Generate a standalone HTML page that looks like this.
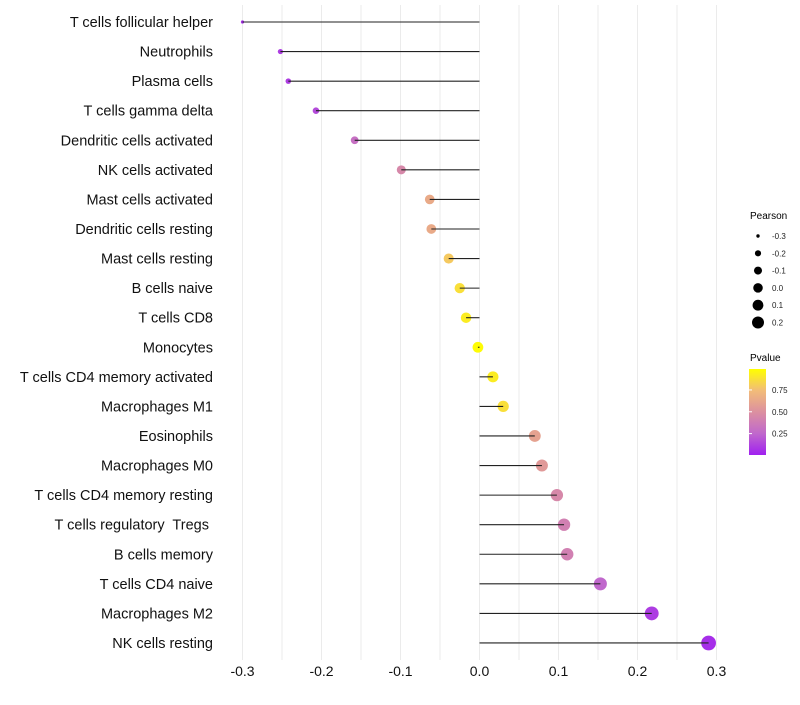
<!DOCTYPE html>
<html><head><meta charset="utf-8"><style>
body{margin:0;background:#fff;font-family:"Liberation Sans",sans-serif}
svg text{font-family:"Liberation Sans",sans-serif;white-space:pre}
</style></head><body>
<svg id="chart" width="800" height="700" xmlns="http://www.w3.org/2000/svg">
<g id="grid"></g>
<g id="dots"></g>
<g id="stems"></g>
<g id="ylab"></g>
<g id="xlab"></g>
<g id="legend">
<text x="750" y="219" font-size="10">Pearson</text>
<text x="750" y="361" font-size="10">Pvalue</text>
<defs><linearGradient id="pg" x1="0" y1="1" x2="0" y2="0">
<stop offset="0" stop-color="#a020f0"/><stop offset="0.25" stop-color="#c068cc"/><stop offset="0.5" stop-color="#dc90a0"/><stop offset="0.75" stop-color="#f2bc78"/><stop offset="1" stop-color="#ffff00"/></linearGradient></defs>
<rect x="749" y="369" width="17" height="86" fill="url(#pg)"/>
</g>
</svg>
<script>
const categories=["T cells follicular helper","Neutrophils","Plasma cells","T cells gamma delta","Dendritic cells activated","NK cells activated","Mast cells activated","Dendritic cells resting","Mast cells resting","B cells naive","T cells CD8","Monocytes","T cells CD4 memory activated","Macrophages M1","Eosinophils","Macrophages M0","T cells CD4 memory resting","T cells regulatory  Tregs ","B cells memory","T cells CD4 naive","Macrophages M2","NK cells resting"];
const pearson=[-0.30,-0.252,-0.242,-0.207,-0.158,-0.099,-0.063,-0.061,-0.039,-0.025,-0.017,-0.002,0.017,0.030,0.070,0.079,0.098,0.107,0.111,0.153,0.218,0.290];
const pvalue=[0.05,0.1,0.1,0.15,0.3,0.45,0.65,0.65,0.8,0.88,0.93,0.99,0.93,0.88,0.6,0.55,0.45,0.4,0.4,0.25,0.1,0.05];
const xTicks=[-0.3,-0.2,-0.1,0,0.1,0.2,0.3];
const xTickLabels=["-0.3","-0.2","-0.1","0.0","0.1","0.2","0.3"];
const sizeLegend=[-0.3,-0.2,-0.1,0.0,0.1,0.2];
const pLegend=[0.75,0.5,0.25];
const NS="http://www.w3.org/2000/svg";
const x=v=>479.5+v*790;
const y=i=>22+i*29.57;
const r=v=>Math.sqrt(Math.max(1.5,29+88*v));
function lerp(a,b,t){return a.map((c,i)=>Math.round(c+(b[i]-c)*t));}
const stops=[[0,[160,32,240]],[0.25,[192,104,204]],[0.5,[220,144,160]],[0.75,[242,188,120]],[1,[255,255,0]]];
function col(p){for(let k=0;k<stops.length-1;k++){const[a,ca]=stops[k],[b,cb]=stops[k+1];if(p<=b){const c=lerp(ca,cb,(p-a)/(b-a));return`rgb(${c})`;}}return"rgb(255,255,0)";}
function mk(t,at,parent){const e=document.createElementNS(NS,t);for(const k in at)e.setAttribute(k,at[k]);document.getElementById(parent).appendChild(e);return e;}
for(let v=-0.3;v<=0.3001;v+=0.05){const g=mk("line",{x1:x(v),x2:x(v),y1:5,y2:660,stroke:"#ebebeb","stroke-width":1},"grid");

}
categories.forEach((c,i)=>{
const d=mk("circle",{cx:x(pearson[i]),cy:y(i),r:r(pearson[i]),fill:col(pvalue[i])},"dots");


const l=mk("line",{x1:x(0),x2:x(pearson[i]),y1:y(i),y2:y(i),stroke:"#222","stroke-width":1.1},"stems");


const t=mk("text",{x:213,y:y(i)+5,"text-anchor":"end","font-size":14.5,fill:"#111"},"ylab");t.textContent=c;


});
xTicks.forEach((v,i)=>{const t=mk("text",{x:x(v),y:676,"text-anchor":"middle","font-size":14,fill:"#111"},"xlab");t.textContent=xTickLabels[i];

});
sizeLegend.forEach((v,i)=>{const cy=236+i*17.3;
const c=mk("circle",{cx:758,cy:cy,r:Math.sqrt(Math.max(1.5,22.7+66*v)),fill:"#000"},"legend");


const t=mk("text",{x:772,y:cy+3,"font-size":8,fill:"#222"},"legend");t.textContent=v.toFixed(1);

});
pLegend.forEach(p=>{const cy=455-(p-0.005)/0.985*86;
const t=mk("text",{x:772,y:cy+3,"font-size":8,fill:"#222"},"legend");t.textContent=p.toFixed(2);


const tk=mk("line",{x1:749,x2:752,y1:cy,y2:cy,stroke:"#fff"},"legend");

});
</script>
</body></html>
